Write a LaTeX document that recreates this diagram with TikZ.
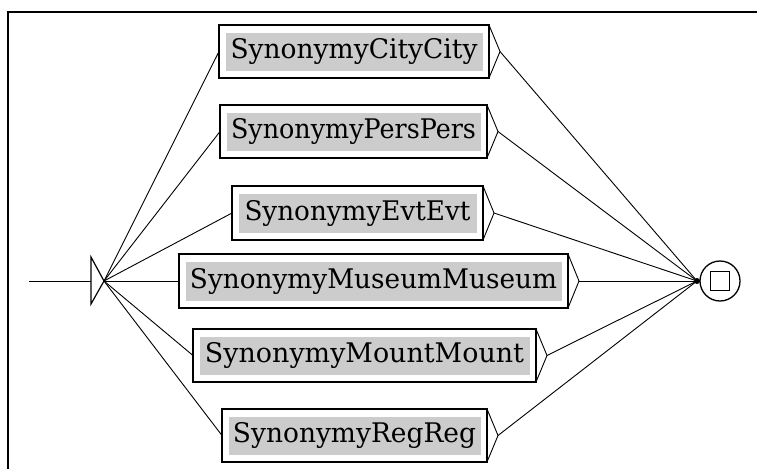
\documentclass[tikz,border=0pt]{standalone}
\usepackage{fontspec}
\setmainfont{DejaVu Serif}
\definecolor{boxgray}{gray}{0.8}
\newcommand\fstbox[7]{%
  \node[boxo, minimum width=#4, minimum height=#5] (#1) at (#2,#3) {};
  \node[boxi, minimum width={#4-13}, minimum height={#5-15}] (#1t) at (#1) {\resizebox{#7pt}{\height}{#6}};
  \coordinate (#1tip) at ([xshift=11pt]#1.east);
  \draw[edge] (#1.north east) -- (#1tip) -- (#1.south east);
}
\begin{document}
\begin{tikzpicture}[x=1pt,y=-1pt,
  frame/.style={line width=2pt},
  edge/.style={line width=0.9pt},
  boxo/.style={draw, line width=1.7pt, fill=white, inner sep=0pt, outer sep=0pt},
  boxi/.style={fill=boxgray, inner sep=0pt, font=\fontsize{27}{30}\selectfont, text=black},
]
\useasboundingbox (0,0) rectangle (757,469);
\draw[frame] (8,469) -- (8,12) -- (757,12);
% initial state
\coordinate (start) at (29,281);
\coordinate (tl) at (91,257);
\coordinate (tb) at (91,304);
\coordinate (tm) at (91,281);
\coordinate (hub) at (104,281);
\draw[edge] (start) -- (tm);
\draw[line width=1.2pt] (tl) -- (hub) -- (tb) -- cycle;
% boxes
\fstbox{b1}{354}{51.5}{270}{53}{SynonymyCityCity}{247}
\fstbox{b2}{353.5}{131.5}{267}{53}{SynonymyPersPers}{245}
\fstbox{b3}{357.5}{213}{251}{54}{SynonymyEvtEvt}{226}
\fstbox{b4}{373.5}{281}{389}{54}{SynonymyMuseumMuseum}{367}
\fstbox{b5}{364.5}{355.5}{343}{53}{SynonymyMountMount}{319}
\fstbox{b6}{354.5}{435.5}{265}{53}{SynonymyRegReg}{243}
% final state
\coordinate (fdot) at (697,281);
\node[draw, circle, minimum size=40pt, line width=1.3pt, inner sep=0pt] (fin) at (720,281) {};
\node[draw, minimum size=19pt, line width=1.5pt, inner sep=0pt] (fsq) at (fin) {};
\foreach \b in {b1,b2,b3,b4,b5,b6}{
  \draw[edge] (hub) -- (\b.west);
  \draw[edge] (\b tip) -- (fdot);
}
\fill (fdot) circle (3pt);
\end{tikzpicture}
\end{document}
